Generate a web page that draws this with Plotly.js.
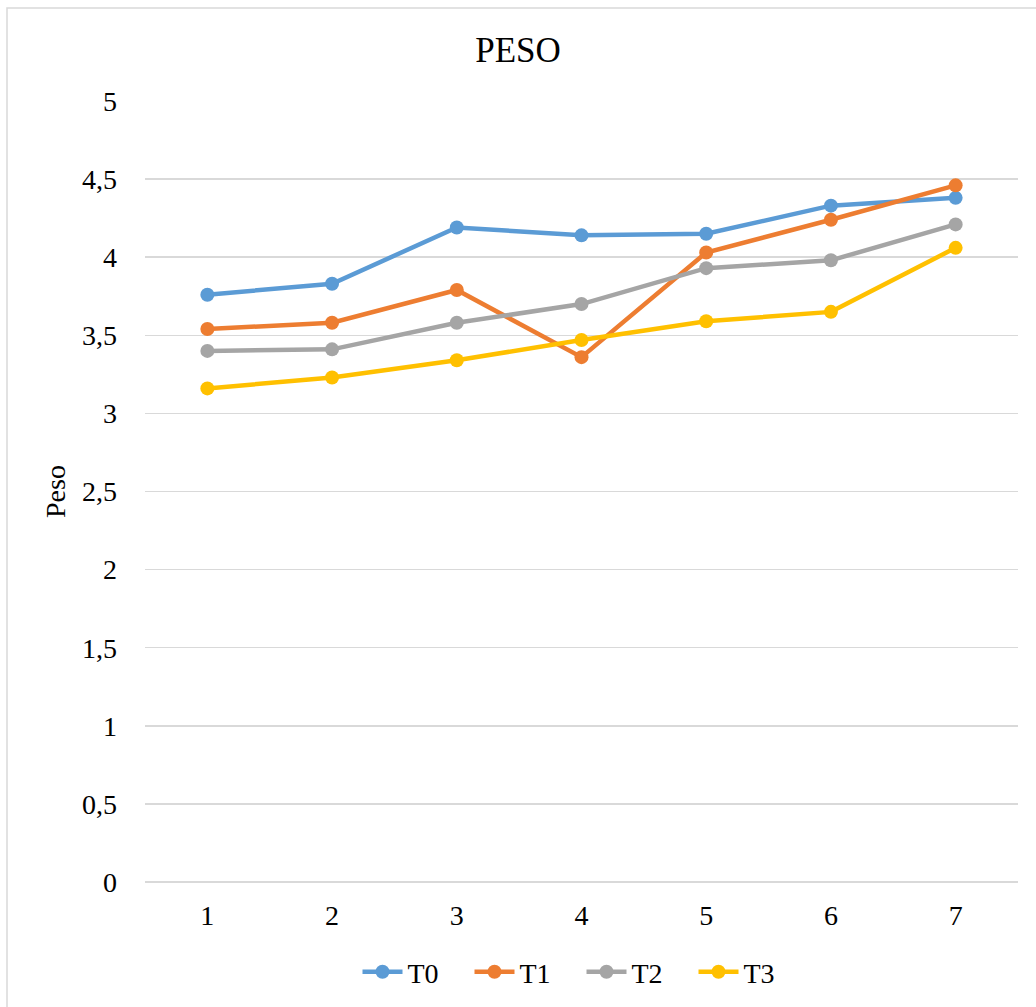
<!DOCTYPE html>
<html>
<head>
<meta charset="utf-8">
<script src="https://cdn.plot.ly/plotly-3.0.1.min.js"></script>
<style>
  html, body { margin: 0; padding: 0; background: #ffffff; }
  #chart { width: 1036px; height: 1007px; }
</style>
</head>
<body>
<div id="chart"></div>
<script>
// Weight measurements per treatment over seven sampling points
const categories = [1, 2, 3, 4, 5, 6, 7];
const seriesNames = ["T0", "T1", "T2", "T3"];
const t0 = [3.76, 3.83, 4.19, 4.14, 4.15, 4.33, 4.38];
const t1 = [3.54, 3.58, 3.79, 3.36, 4.03, 4.24, 4.46];
const t2 = [3.40, 3.41, 3.58, 3.70, 3.93, 3.98, 4.21];
const t3 = [3.16, 3.23, 3.34, 3.47, 3.59, 3.65, 4.06];
const yTickValues = [0, 0.5, 1, 1.5, 2, 2.5, 3, 3.5, 4, 4.5, 5];
const yTickLabels = ["0", "0,5", "1", "1,5", "2", "2,5", "3", "3,5", "4", "4,5", "5"];

const colors = ["#5B9BD5", "#ED7D31", "#A5A5A5", "#FFC000"];
const values = [t0, t1, t2, t3];
const serif = "'Liberation Serif', 'Times New Roman', serif";

const traces = values.map((v, i) => ({
  x: categories,
  y: v,
  name: seriesNames[i],
  type: "scatter",
  mode: "lines+markers",
  line: { color: colors[i], width: 4.5 },
  marker: { color: colors[i], size: 14 }
}));

const layout = {
  width: 1036,
  height: 1007,
  paper_bgcolor: "#ffffff",
  plot_bgcolor: "#ffffff",
  margin: { l: 145, r: 18, t: 101, b: 125, autoexpand: false },
  title: {
    text: "PESO",
    font: { family: serif, size: 35, color: "#000000" },
    x: 0.5, xanchor: "center",
    y: 1 - 50 / 1007, yanchor: "middle"
  },
  xaxis: {
    range: [0.5, 7.5],
    tickmode: "array",
    tickvals: categories,
    ticktext: categories.map(String),
    showgrid: false,
    zeroline: false,
    showline: false,
    ticks: "",
    ticklabelstandoff: 14,
    tickfont: { family: serif, size: 28, color: "#000000" }
  },
  yaxis: {
    range: [0, 5],
    tickmode: "array",
    tickvals: yTickValues,
    ticktext: yTickLabels,
    showgrid: true,
    gridcolor: "#d9d9d9",
    gridwidth: 1.5,
    zeroline: true,
    zerolinecolor: "#d9d9d9",
    zerolinewidth: 1.5,
    showline: false,
    ticks: "",
    ticklabelstandoff: 27,
    tickfont: { family: serif, size: 28, color: "#000000" },
    title: {
      text: "Peso",
      font: { family: serif, size: 28, color: "#000000" },
      standoff: 8
    }
  },
  legend: {
    orientation: "h",
    x: 0.5, xanchor: "center",
    y: -(972 - 882) / 781, yanchor: "middle",
    font: { family: serif, size: 28, color: "#000000" },
    itemwidth: 40,
    entrywidth: 57,
    entrywidthmode: "pixels",
    tracegroupgap: 0
  },
  shapes: [{
    type: "rect",
    xref: "paper", yref: "paper",
    x0: (7 - 145) / 873, x1: (1045 - 145) / 873,
    y0: (882 - 1015) / 781, y1: (882 - 8) / 781,
    line: { color: "#d9d9d9", width: 1.5 },
    fillcolor: "rgba(0,0,0,0)",
    layer: "below"
  }],
  showlegend: true
};

Plotly.newPlot("chart", traces, layout, { displayModeBar: false, staticPlot: true });
</script>
</body>
</html>
